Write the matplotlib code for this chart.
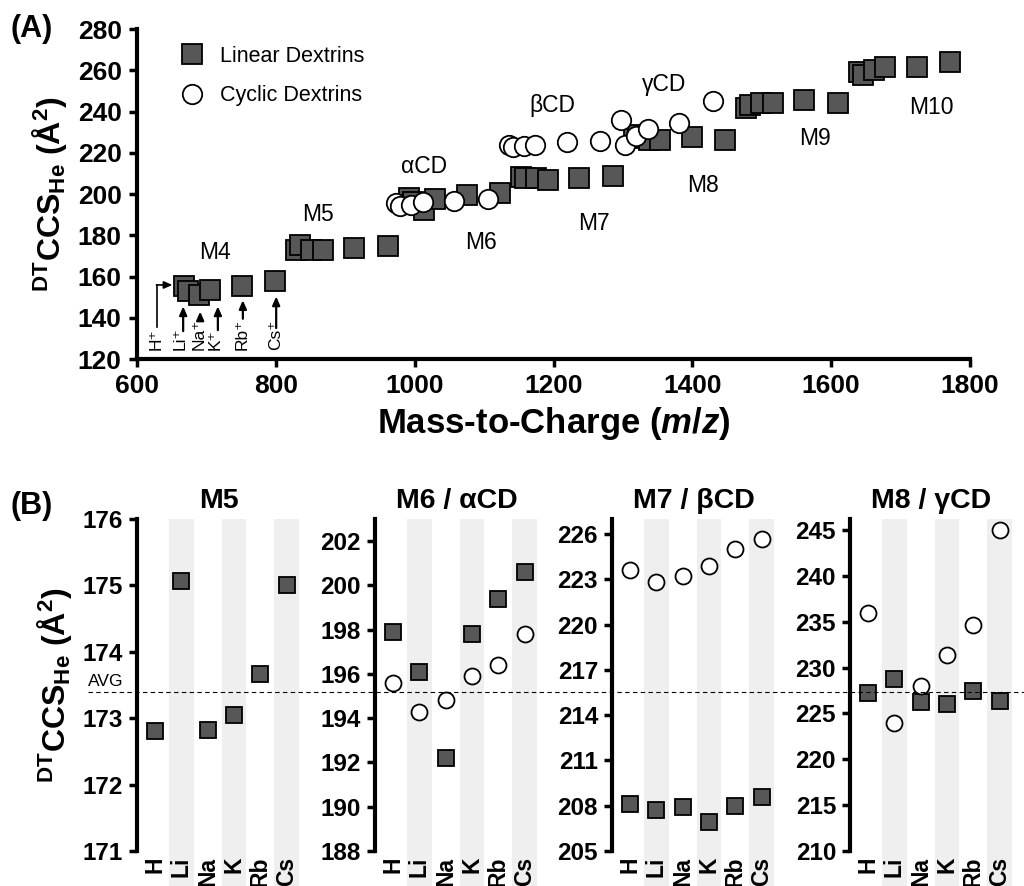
import numpy as np
import matplotlib
matplotlib.use('Agg')
import matplotlib.pyplot as plt
import matplotlib.transforms as mtransforms
from matplotlib.lines import Line2D

plt.rcParams['font.family'] = ['Liberation Sans', 'DejaVu Sans']
plt.rcParams['mathtext.fontset'] = 'custom'
plt.rcParams['mathtext.rm'] = 'Liberation Sans:bold'
plt.rcParams['mathtext.bf'] = 'Liberation Sans:bold'
plt.rcParams['mathtext.it'] = 'Liberation Sans:bold:italic'

# ─── Data ───
ions = ['H', 'Li', 'Na', 'K', 'Rb', 'Cs']
ion_labels = ['H⁺', 'Li⁺', 'Na⁺', 'K⁺', 'Rb⁺', 'Cs⁺']

# linear dextrins, m/z per adduct (H, Li, Na, K, Rb, Cs) and CCS
mz_M4 = [667.2, 673.2, 689.2, 705.2, 751.1, 799.1]
ccs_M4 = [155.5, 153.2, 150.8, 153.3, 155.6, 157.8]
mz_M5 = [829.3, 835.3, 851.3, 867.3, 913.2, 961.2]
ccs_M5 = [172.80, 175.07, 172.82, 173.05, 173.67, 175.00]
mz_M6 = [991.3, 997.3, 1013.3, 1029.4, 1075.2, 1123.2]
ccs_M6 = [197.9, 196.1, 192.2, 197.8, 199.4, 200.6]
mz_M7 = [1153.4, 1159.4, 1175.4, 1191.5, 1237.3, 1285.3]
ccs_M7 = [208.1, 207.7, 207.9, 206.9, 208.0, 208.6]
mz_M8 = [1315.4, 1321.4, 1337.4, 1353.5, 1399.3, 1447.3]
ccs_M8 = [227.2, 228.7, 226.3, 226.0, 227.5, 226.4]
mz_M9 = [1477.5, 1483.5, 1499.5, 1515.6, 1561.4, 1609.4]
ccs_M9 = [241.6, 243.1, 244.0, 244.1, 245.6, 244.3]
mz_M10 = [1639.6, 1645.6, 1661.6, 1677.7, 1723.5, 1771.5]
ccs_M10 = [259.2, 257.7, 260.1, 261.7, 261.7, 263.8]

# cyclic dextrins
mz_aCD = [973.3, 979.3, 995.3, 1011.3, 1057.2, 1105.2]
ccs_aCD = [195.6, 194.3, 194.8, 195.9, 196.4, 197.8]
mz_bCD = [1135.4, 1141.4, 1157.4, 1173.4, 1219.3, 1267.3]
ccs_bCD = [223.6, 222.8, 223.2, 223.9, 225.0, 225.7]
mz_gCD = [1297.4, 1303.4, 1319.4, 1335.5, 1381.3, 1429.3]
ccs_gCD = [236.0, 224.0, 228.0, 231.4, 234.6, 245.0]

# average line value on the M5 scale (panel B)
avg_M5 = 173.4

SQ_FACE = '#575757'
YLABEL = r'$^{\mathbf{DT}}$CCS$_{\mathbf{He}}$ (Å$^{\mathbf{2}}$)'

fig = plt.figure(figsize=(10.24, 8.86), dpi=100)

# ─── Panel A ───
ax = fig.add_axes([137/1024, 1 - 359/886, 833/1024, 330/886])

lin_mz = np.concatenate([mz_M4, mz_M5, mz_M6, mz_M7, mz_M8, mz_M9, mz_M10])
lin_ccs = np.concatenate([ccs_M4, ccs_M5, ccs_M6, ccs_M7, ccs_M8, ccs_M9, ccs_M10])
cyc_mz = np.concatenate([mz_aCD, mz_bCD, mz_gCD])
cyc_ccs = np.concatenate([ccs_aCD, ccs_bCD, ccs_gCD])

ax.plot(lin_mz, lin_ccs, 's', ls='none', ms=14, mfc=SQ_FACE, mec='k', mew=1.3,
        label='Linear Dextrins', zorder=3)
ax.plot(cyc_mz, cyc_ccs, 'o', ls='none', ms=14, mfc='white', mec='k', mew=1.3,
        label='Cyclic Dextrins', zorder=4)

ax.set_xlim(600, 1800)
ax.set_ylim(120, 280)
ax.set_xticks(np.arange(600, 1801, 200))
ax.set_yticks(np.arange(120, 281, 20))
for s in ['top', 'right']:
    ax.spines[s].set_visible(False)
for s in ['left', 'bottom']:
    ax.spines[s].set_linewidth(3)
ax.tick_params(direction='out', length=6, width=2.5, labelsize=19, pad=5)
for lab in ax.get_xticklabels() + ax.get_yticklabels():
    lab.set_fontweight('bold')
ax.set_xlabel(r'Mass-to-Charge ($m/z$)', fontsize=25, fontweight='bold', labelpad=5)
ax.set_ylabel(YLABEL, fontsize=23, fontweight='bold', labelpad=6)

ax.legend(loc='upper left', bbox_to_anchor=(0.04, 0.975), frameon=False, fontsize=15.5,
          handlelength=1.2, handletextpad=0.7, labelspacing=0.85, borderaxespad=0)

# series labels
for txt, x, y in [('M4', 712, 171.5), ('M5', 861, 190), ('αCD', 1013, 213.5),
                  ('M6', 1095, 176.5), ('βCD', 1198, 243), ('M7', 1258, 185.5),
                  ('γCD', 1360, 253), ('M8', 1416, 204), ('M9', 1576, 227),
                  ('M10', 1744, 242)]:
    ax.text(x, y, txt, fontsize=16.5, ha='center', va='center')

# adduct labels with arrows (M4 series)
lab_x = [627, 662, 689, 713, 751, 800]
for lx, lab in zip(lab_x, ion_labels):
    ax.text(lx, 124.4, lab, fontsize=12.5, rotation=90, ha='center', va='bottom')
arrow_x = [666.5, 691, 716.5, 752.5, 800.5]
arrow_tail = [133.5, 138.5, 134.0, 139.5, 135.0]
arrow_tip = [145.5, 143.0, 145.5, 148.5, 150.3]
for axx, t0, t1 in zip(arrow_x, arrow_tail, arrow_tip):
    ax.annotate('', xy=(axx, t1), xytext=(axx, t0),
                arrowprops=dict(arrowstyle='-|>,head_length=0.5,head_width=0.22',
                                color='k', lw=1.6, shrinkA=0, shrinkB=0))
# H+ elbow arrow
ax.plot([628.6, 628.6], [135.5, 155.9], color='k', lw=1.2)
ax.annotate('', xy=(651, 155.9), xytext=(628.0, 155.9),
            arrowprops=dict(arrowstyle='-|>,head_length=0.5,head_width=0.22',
                            color='k', lw=1.2, shrinkA=0, shrinkB=0))

fig.text(11/1024, 1 - 29/886, '(A)', fontsize=22, fontweight='bold', va='center')

# ─── Panel B ───
panels = [
    ('M5', ccs_M5, None, (171, 176), np.arange(171, 176.1, 1)),
    ('M6 / αCD', ccs_M6, ccs_aCD, (188, 203), np.arange(188, 202.1, 2)),
    ('M7 / βCD', ccs_M7, ccs_bCD, (205, 227), np.arange(205, 226.1, 3)),
    ('M8 / γCD', ccs_M8, ccs_gCD, (210, 246.2), np.arange(210, 245.1, 5)),
]
lefts = [137, 375, 612, 850]
xpos = np.arange(len(ions))
axes_b = []
for left, (title, lin, cyc, ylim, ticks) in zip(lefts, panels):
    bx = fig.add_axes([left/1024, 1 - 851/886, 163/1024, 332/886])
    bx.set_facecolor('none')
    for i in (1, 3, 5):
        bx.axvspan(i - 0.47, i + 0.47, ymin=-0.15, ymax=1, color='#efefef', lw=0,
                   clip_on=False, zorder=0)
    bx.plot(xpos, lin, 's', ls='none', ms=12, mfc=SQ_FACE, mec='k', mew=1.3, zorder=3,
            clip_on=False)
    if cyc is not None:
        bx.plot(xpos, cyc, 'o', ls='none', ms=11.5, mfc='white', mec='k', mew=1.3,
                zorder=4, clip_on=False)
    bx.set_xlim(-0.68, 5.5)
    bx.set_ylim(*ylim)
    bx.set_yticks(ticks)
    bx.set_yticklabels([f'{t:g}' for t in ticks])
    bx.set_xticks(xpos)
    bx.set_xticklabels(ions, rotation=90)
    for s in ['top', 'right', 'bottom']:
        bx.spines[s].set_visible(False)
    bx.spines['left'].set_linewidth(3)
    bx.tick_params(axis='y', direction='out', length=6, width=2.5, labelsize=17.5, pad=4)
    bx.tick_params(axis='x', length=0, labelsize=16.5, pad=4)
    for lab in bx.get_xticklabels() + bx.get_yticklabels():
        lab.set_fontweight('bold')
    bx.set_title(title, fontsize=20.5, fontweight='bold', pad=8)
    axes_b.append(bx)

ax0 = axes_b[0]
ax0.set_ylabel(YLABEL, fontsize=23, fontweight='bold', labelpad=6)

# average line across all panels
blend = mtransforms.blended_transform_factory(fig.transFigure, ax0.transData)
fig.add_artist(Line2D([88/1024, 1.0], [avg_M5, avg_M5], transform=blend, color='k',
                      lw=0.8, ls=(0, (4, 3)), zorder=5))
fig.text(88/1024, avg_M5, 'AVG', fontsize=12.5, ha='left', va='bottom',
         transform=mtransforms.offset_copy(blend, fig=fig, x=0, y=2, units='points'))

fig.text(11/1024, 1 - 506/886, '(B)', fontsize=22, fontweight='bold', va='center')

fig.savefig('out.png', dpi=100)
